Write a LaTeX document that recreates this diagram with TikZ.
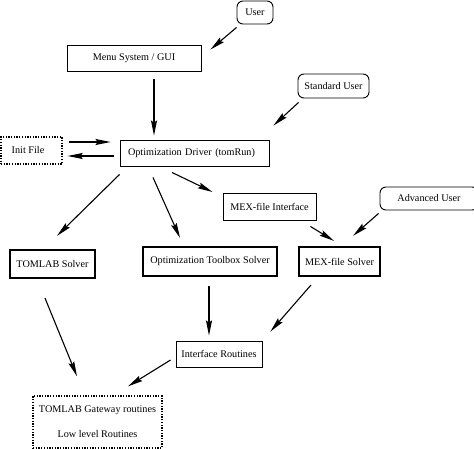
\documentclass[tikz,border=0pt]{standalone}
\usepackage{fontspec}
\setmainfont{Liberation Serif}
\usetikzlibrary{arrows.meta}
\begin{document}
\begin{tikzpicture}[x=1pt,y=-1pt,
  every node/.style={font=\fontsize{10.2}{12}\selectfont, inner sep=0pt},
  plainbox/.style={draw, line width=0.9pt, minimum width=#1},
  thickbox/.style={draw, line width=2.2pt, minimum width=#1},
  dotbox/.style={draw, line width=1.3pt, dash pattern=on 1.3pt off 1.4pt, minimum width=#1},
  userbox/.style={draw, line width=0.9pt, rounded corners=6pt, minimum width=#1},
  arr/.style={line width=1.1pt, -{Stealth[length=15pt,width=6pt,inset=2pt]}}
]
\useasboundingbox (0,0) rectangle (474,449);

\node[userbox=36, minimum height=23] (user) at (255,12.5) {User};
\node[plainbox=134, minimum height=26] (menu) at (134,58) {Menu System / GUI};
\node[userbox=71, minimum height=24] (std) at (333.5,86) {Standard User};
\node[dotbox=61, minimum height=27] (init) at (31.5,150.5) {\hspace{-7pt}Init File};
\node[plainbox=149, minimum height=26, text width=133, align=left, inner xsep=8pt] (drv) at (194.5,153) {Optimization Driver (tomRun)};
\node[plainbox=93, minimum height=27] (mexi) at (269.5,206.5) {MEX-file Interface};
\node[userbox=98, minimum height=23] (adv) at (429,198.5) {Advanced User};
\node[thickbox=85, minimum height=28] (tom) at (52.5,264) {TOMLAB Solver};
\node[thickbox=134, minimum height=29] (opt) at (210,261.5) {Optimization Toolbox Solver};
\node[thickbox=81, minimum height=29] (mexs) at (339.5,261.5) {MEX-file Solver};
\node[plainbox=86, minimum height=26] (ir) at (219,354) {Interface Routines};
\node[dotbox=129, minimum height=52, align=center] (gw) at (97.5,422) {TOMLAB Gateway routines\\[13pt]Low level Routines};

\draw[arr] ([shift={(0,3)}]user.south west) -- ([shift={(9,5)}]menu.north east);
\draw[arr] ([shift={(20,8)}]menu.south) -- ([shift={(-40.5,-4)}]drv.north);
\draw[arr] ([shift={(1,4)}]std.south west) -- ([shift={(4,-14)}]drv.north east);
\draw[arr] ([shift={(6,-8.5)}]init.east) -- ([shift={(-9,-11)}]drv.west);
\draw[arr] ([shift={(-6,3)}]drv.west) -- ([shift={(5,5.5)}]init.east);
\draw[arr] ([shift={(0,8)}]drv.south west) -- ([shift={(4.5,-13)}]tom.north);
\draw[arr] ([shift={(-41.5,11)}]drv.south) -- ([shift={(-30,-8)}]opt.north);
\draw[arr] ([shift={(-22.5,6)}]drv.south) -- ([shift={(-10,-14.5)}]mexi.west);
\draw[arr] ([shift={(-6,6)}]mexi.south east) -- ([shift={(-5.5,-5)}]mexs.north);
\draw[arr] ([shift={(-1,3)}]adv.south west) -- ([shift={(13.5,-10)}]mexs.north);
\draw[arr] ([shift={(-7.5,19)}]tom.south) -- ([shift={(-20.5,-19)}]gw.north);
\draw[arr] ([shift={(-1,9)}]opt.south) -- ([shift={(-10,-5)}]ir.north);
\draw[arr] ([shift={(13,8)}]mexs.south west) -- ([shift={(8,-9)}]ir.north east);
\draw[arr] ([shift={(-5,6)}]ir.west) -- ([shift={(30.5,-9)}]gw.north);
\end{tikzpicture}
\end{document}
